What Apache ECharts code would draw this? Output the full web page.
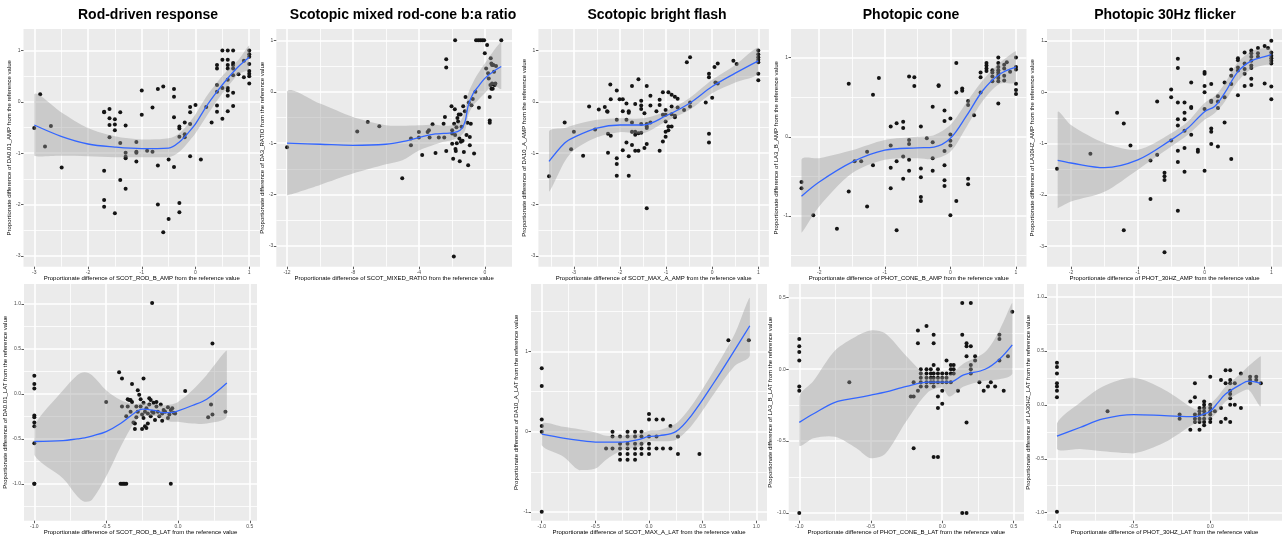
<!DOCTYPE html>
<html><head><meta charset="utf-8">
<script src="https://cdn.jsdelivr.net/npm/echarts@6/dist/echarts.min.js"></script>
<style>html,body{margin:0;padding:0;background:#fff}#c{width:1284px;height:540px}</style>
</head><body><div id="c"></div>
<script>
// ---------- DATA ----------
const panelTitles = ['Rod-driven response','Scotopic mixed rod-cone b:a ratio','Scotopic bright flash','Photopic cone','Photopic 30Hz flicker'];

const rodAmpPoints = [[-3,-0.51],[-2.89,0.15],[-2.8,-0.87],[-2.69,-0.47],[-2.49,-1.28],[-1.7,-0.19],[-1.7,-0.2],[-1.7,-1.34],[-1.7,-1.91],[-1.7,-2.04],[-1.6,-0.14],[-1.6,-0.32],[-1.6,-0.45],[-1.6,-0.69],[-1.5,-0.34],[-1.5,-0.44],[-1.5,-0.55],[-1.5,-2.17],[-1.4,-0.2],[-1.4,-0.8],[-1.4,-1.52],[-1.3,-0.46],[-1.3,-0.99],[-1.3,-1.07],[-1.3,-1.1],[-1.3,-1.69],[-1.1,-0.78],[-1.1,-0.97],[-1.1,-0.99],[-1.1,-1.16],[-1,0.22],[-1,-0.25],[-0.9,-0.95],[-0.8,-0.11],[-0.8,-0.97],[-0.7,0.25],[-0.7,-1.24],[-0.7,-2.0],[-0.6,0.3],[-0.6,-2.54],[-0.5,-1.12],[-0.5,-2.28],[-0.4,0.25],[-0.4,0.1],[-0.4,-0.3],[-0.4,-1.27],[-0.3,-0.48],[-0.3,-0.52],[-0.3,-0.68],[-0.3,-1.97],[-0.3,-2.15],[-0.2,-0.4],[-0.2,-0.63],[-0.2,-0.69],[-0.1,-0.1],[-0.1,-0.2],[-0.1,-0.43],[-0.1,-1.06],[0,-0.06],[0.1,-1.12],[0.2,-0.1],[0.3,-0.4],[0.4,0.72],[0.4,0.65],[0.4,0.33],[0.4,0.2],[0.4,-0.07],[0.4,-0.19],[0.5,1],[0.5,0.82],[0.5,0.27],[0.5,-0.33],[0.6,1],[0.6,0.82],[0.6,0.72],[0.6,0.65],[0.6,0.43],[0.6,0.27],[0.6,0.22],[0.6,0.12],[0.6,-0.18],[0.7,1],[0.7,0.76],[0.7,0.72],[0.7,0.65],[0.7,0.52],[0.7,0.18],[0.7,-0.08],[0.8,0.54],[0.9,0.8],[0.9,0.48],[1,1],[1,0.93],[1,0.88],[1,0.74],[1,0.6],[1,0.55],[1,0.5],[1,0.36]];
// [x, fit, lower, upper]
const rodAmpFit = [[-3,-0.45,-1.05,0.15],[-2.5,-0.67,-1.05,-0.2],[-2,-0.82,-1.06,-0.51],[-1.5,-0.88,-1.08,-0.67],[-1,-0.91,-1.08,-0.73],[-0.5,-0.9,-1.08,-0.71],[-0.3,-0.78,-0.97,-0.61],[-0.1,-0.56,-0.74,-0.38],[0,-0.43,-0.61,-0.24],[0.2,-0.09,-0.29,0.1],[0.4,0.2,0.02,0.38],[0.6,0.46,0.3,0.62],[0.8,0.69,0.54,0.82],[1,0.87,0.65,1.1]];

const mixedRatioPoints = [[-12,-1.08],[-7.74,-0.77],[-7.1,-0.59],[-6.4,-0.67],[-5.01,-1.68],[-4.48,-0.91],[-4.48,-1.04],[-4,-0.78],[-4,-0.89],[-3.8,-1.23],[-3.47,-0.78],[-3.39,-0.75],[-3.35,-0.89],[-3.17,-0.63],[-2.99,-1.19],[-2.79,-0.89],[-2.5,-0.62],[-2.46,-0.89],[-2.42,-0.49],[-2.34,0.63],[-2.34,0.47],[-2.34,-1.15],[-2.02,-0.28],[-1.98,-0.75],[-1.98,-0.81],[-1.98,-1.01],[-1.92,-1.3],[-1.88,-3.2],[-1.86,-0.62],[-1.82,-0.34],[-1.8,1],[-1.8,-0.84],[-1.78,-1.11],[-1.76,-1.15],[-1.72,-0.69],[-1.7,-1.0],[-1.66,-0.51],[-1.62,-0.58],[-1.58,-0.44],[-1.54,-0.91],[-1.52,-1.35],[-1.47,-0.44],[-1.45,-0.97],[-1.41,-0.68],[-1.35,-0.95],[-1.31,-0.28],[-1.27,-1.17],[-1.21,-0.38],[-1.17,-0.1],[-1.11,-0.84],[-1.05,-0.6],[-1.01,-1.43],[-0.97,-0.21],[-0.91,-0.88],[-0.91,-1.04],[-0.85,-0.62],[-0.81,-0.26],[-0.73,-0.14],[-0.65,-1.2],[-0.57,0],[-0.53,1],[-0.4,1],[-0.36,-0.31],[-0.28,1],[-0.16,1],[-0.04,1],[0,0.75],[0.08,0.45],[0.14,0.91],[0.2,0.36],[0.24,0.26],[0.3,-0.1],[0.3,-0.56],[0.3,-0.6],[0.34,0.13],[0.36,0.65],[0.4,0.55],[0.4,0.06],[0.44,0.52],[0.44,0.16],[0.48,0.06],[0.52,0.52],[0.52,0.14],[0.56,0.39],[0.6,0.13],[0.64,0.16],[0.68,0.5],[1,1]];
const mixedRatioFit = [[-12,-1.0,-2.01,0],[-10,-1.02,-1.81,-0.23],[-8,-1.04,-1.59,-0.49],[-6,-1.02,-1.41,-0.65],[-5,-0.97,-1.33,-0.66],[-4,-0.89,-1.14,-0.65],[-3,-0.82,-1.02,-0.64],[-2.5,-0.81,-0.97,-0.66],[-2,-0.8,-0.94,-0.65],[-1.5,-0.75,-0.87,-0.58],[-1.2,-0.58,-0.76,-0.36],[-1,-0.26,-0.45,-0.03],[-0.7,-0.03,-0.26,0.19],[-0.4,0.1,-0.16,0.36],[0,0.26,-0.03,0.55],[0.5,0.39,0.13,0.78],[1,0.49,0.06,0.97]];

const maxAAmpPoints = [[-3.54,-1.45],[-3.2,-0.4],[-3.06,-0.92],[-3,-0.58],[-2.8,-1.05],[-2.67,-0.09],[-2.54,-0.54],[-2.46,-0.15],[-2.33,-0.1],[-2.28,-0.18],[-2.27,-0.19],[-2.26,-0.62],[-2.26,-0.99],[-2.21,0.34],[-2.2,0.05],[-2.2,-0.66],[-2.07,0.22],[-2.07,-0.35],[-2.07,-1.1],[-2.07,-1.21],[-2.07,-1.44],[-2.01,0.05],[-1.94,0.05],[-1.94,-0.18],[-1.94,-0.94],[-1.86,-0.03],[-1.86,-0.35],[-1.86,-0.79],[-1.81,-0.18],[-1.81,-0.21],[-1.81,-1.06],[-1.81,-1.44],[-1.74,0.31],[-1.74,-0.4],[-1.74,-0.58],[-1.74,-0.84],[-1.67,-0.04],[-1.67,-0.58],[-1.67,-0.64],[-1.67,-0.95],[-1.6,0.44],[-1.6,-0.61],[-1.6,-0.95],[-1.54,0.02],[-1.54,-0.07],[-1.54,-0.14],[-1.54,-0.43],[-1.54,-0.6],[-1.47,-0.22],[-1.47,-0.9],[-1.42,0.31],[-1.42,-0.43],[-1.42,-0.48],[-1.42,-0.51],[-1.42,-0.82],[-1.42,-2.07],[-1.34,0.12],[-1.34,-0.07],[-1.34,-0.4],[-1.21,-0.18],[-1.14,0.04],[-1.14,-0.06],[-1.14,-0.95],[-1.07,0.19],[-1.07,-0.25],[-1.07,-0.77],[-1.01,-0.16],[-1.01,-0.25],[-1.01,-0.38],[-1.01,-0.58],[-1.01,-0.68],[-0.95,0.19],[-0.95,-0.48],[-0.95,-0.55],[-0.88,0.14],[-0.88,-0.09],[-0.88,-0.24],[-0.88,-0.48],[-0.81,0.1],[-0.81,-0.27],[-0.81,-0.3],[-0.75,0.06],[-0.75,-0.11],[-0.61,-0.16],[-0.55,0.77],[-0.48,0.87],[-0.48,-0.01],[-0.48,-0.09],[-0.14,-0.01],[-0.07,0.55],[-0.07,0.48],[-0.07,-0.62],[-0.07,-0.79],[0,0.08],[0.05,0.68],[0.07,0.38],[0.12,0.75],[0.12,0.36],[0.46,0.8],[0.53,0.74],[1,1],[1,0.93],[1,0.87],[1,0.82],[1,0.77],[1,0.55],[1,0.42]];
const maxAAmpFit = [[-3.54,-1.16,-1.75,-0.58],[-3.2,-0.8,-1.16,-0.51],[-3,-0.69,-0.94,-0.45],[-2.5,-0.51,-0.69,-0.35],[-2,-0.45,-0.59,-0.32],[-1.5,-0.45,-0.61,-0.32],[-1,-0.27,-0.38,-0.18],[-0.5,-0.03,-0.16,0.07],[0,0.3,0.17,0.43],[0.5,0.56,0.38,0.72],[1,0.8,0.56,1.06]];

const coneBAmpPoints = [[-2.27,-0.57],[-2.27,-0.65],[-2.09,-0.99],[-1.73,-1.16],[-1.55,0.67],[-1.55,-0.69],[-1.46,-0.31],[-1.36,-0.31],[-1.27,-0.19],[-1.27,-0.88],[-1.18,0.53],[-1.18,-0.36],[-1.09,0.74],[-0.91,0.13],[-0.91,-0.11],[-0.91,-0.39],[-0.91,-0.65],[-0.82,0.17],[-0.82,-0.31],[-0.82,-1.18],[-0.72,0.19],[-0.72,0.11],[-0.72,-0.25],[-0.72,-0.53],[-0.63,0.76],[-0.63,-0.04],[-0.63,-0.09],[-0.63,-0.29],[-0.63,-0.43],[-0.55,0.75],[-0.55,0.64],[-0.45,0.13],[-0.45,-0.4],[-0.45,-0.51],[-0.45,-0.76],[-0.45,-0.81],[-0.36,-0.02],[-0.27,0.38],[-0.27,-0.07],[-0.27,-0.27],[-0.27,-0.43],[-0.18,0.65],[-0.18,0.64],[-0.09,0.33],[-0.09,0.2],[-0.09,-0.18],[-0.09,-0.36],[-0.09,-0.55],[-0.09,-0.62],[0,0.23],[0,0.03],[0,-0.05],[0,-0.11],[0,-0.99],[0.09,0.93],[0.09,0.56],[0.09,-0.81],[0.18,0.61],[0.18,0.58],[0.27,0.45],[0.27,0.4],[0.27,-0.53],[0.27,-0.6],[0.36,0.27],[0.46,0.81],[0.46,0.75],[0.46,0.56],[0.55,0.93],[0.55,0.9],[0.55,0.86],[0.55,0.83],[0.64,0.84],[0.64,0.81],[0.64,0.76],[0.64,0.7],[0.73,1],[0.73,0.93],[0.73,0.88],[0.73,0.84],[0.73,0.81],[0.73,0.78],[0.73,0.74],[0.73,0.7],[0.73,0.42],[0.82,0.91],[0.82,0.86],[0.82,0.77],[0.82,0.71],[0.86,0.94],[0.91,0.82],[1,1],[1,0.88],[1,0.85],[1,0.67],[1,0.59],[1,0.54]];
const coneBAmpFit = [[-2.27,-0.75,-1.21,-0.29],[-2,-0.57,-0.88,-0.27],[-1.5,-0.32,-0.46,-0.17],[-1,-0.17,-0.29,-0.04],[-0.5,-0.14,-0.27,0],[-0.25,-0.13,-0.28,0.02],[0,-0.02,-0.19,0.15],[0.25,0.27,0.13,0.44],[0.5,0.59,0.46,0.72],[0.75,0.79,0.67,0.93],[1,0.88,0.69,1.08]];

const flickerAmpPoints = [[-2.21,-1.49],[-1.71,-1.2],[-1.31,-0.4],[-1.21,-0.61],[-1.21,-2.69],[-1.11,-1.04],[-0.81,-1.33],[-0.81,-2.08],[-0.71,-0.18],[-0.71,-1.22],[-0.6,-1.57],[-0.6,-1.64],[-0.6,-1.71],[-0.6,-3.12],[-0.5,0.05],[-0.5,-0.1],[-0.5,-0.94],[-0.4,0.65],[-0.4,0.47],[-0.4,-0.2],[-0.4,-0.53],[-0.4,-0.65],[-0.4,-1.14],[-0.4,-1.36],[-0.4,-2.31],[-0.3,-0.2],[-0.3,-0.4],[-0.3,-0.53],[-0.3,-0.75],[-0.3,-1.09],[-0.3,-1.55],[-0.2,0.19],[-0.2,-0.29],[-0.2,-0.31],[-0.2,-0.83],[-0.1,-1.12],[-0.1,-1.16],[0,0.39],[0,0.36],[0,0.12],[0,0],[0,-0.33],[0,-1.53],[0.1,0.16],[0.1,-0.17],[0.1,-0.19],[0.1,-0.71],[0.1,-0.77],[0.1,-1.01],[0.2,-0.08],[0.2,-0.18],[0.2,-0.31],[0.2,-1.06],[0.3,0.19],[0.3,-0.1],[0.3,-0.59],[0.4,0.44],[0.4,0.32],[0.4,0.16],[0.4,-1.3],[0.5,0.66],[0.5,0.62],[0.5,0.48],[0.5,0.42],[0.5,-0.06],[0.6,0.77],[0.6,0.56],[0.6,0.45],[0.6,0.36],[0.6,0.12],[0.7,0.81],[0.7,0.76],[0.7,0.69],[0.7,0.61],[0.7,0.52],[0.7,0.47],[0.7,0.26],[0.7,0.14],[0.8,0.86],[0.8,0.76],[0.8,0.69],[0.9,0.9],[0.9,0.17],[0.95,0.86],[1,1],[1,0.77],[1,0.71],[1,0.66],[1,0.61],[1,0.56],[1,0.11],[1,-0.14]];
const flickerAmpFit = [[-2.2,-1.33,-2.26,-0.39],[-2,-1.38,-2.13,-0.64],[-1.5,-1.47,-1.94,-0.99],[-1,-1.32,-1.51,-1.12],[-0.5,-0.93,-1.06,-0.8],[-0.25,-0.7,-0.83,-0.57],[0,-0.38,-0.54,-0.21],[0.15,-0.28,-0.41,-0.08],[0.3,-0.02,-0.19,0.16],[0.5,0.4,0.21,0.58],[0.7,0.61,0.45,0.79],[0.9,0.69,0.53,0.86],[1,0.73,0.56,0.84]];

const rodLatPoints = [[-1,0.2],[-1,0.11],[-1,0.06],[-1,-0.24],[-1,-0.26],[-1,-0.32],[-1,-0.36],[-1,-0.55],[-1,-1],[-1,-1],[-0.5,-0.09],[-0.41,0.24],[-0.4,-1],[-0.39,-1],[-0.38,-1],[-0.37,-1],[-0.36,-1],[-0.39,0.17],[-0.39,-0.14],[-0.36,-0.25],[-0.35,-0.14],[-0.35,-0.06],[-0.34,-0.07],[-0.33,-0.07],[-0.33,-0.2],[-0.32,-0.09],[-0.32,0.11],[-0.31,-0.32],[-0.3,-0.33],[-0.3,-0.39],[-0.29,-0.14],[-0.29,-0.26],[-0.28,0.04],[-0.28,-0.2],[-0.27,-0.01],[-0.26,-0.06],[-0.26,-0.14],[-0.25,-0.23],[-0.25,-0.39],[-0.24,0.17],[-0.24,-0.27],[-0.24,-0.1],[-0.23,-0.36],[-0.23,-0.2],[-0.22,-0.16],[-0.22,-0.38],[-0.21,-0.33],[-0.21,-0.22],[-0.2,-0.05],[-0.2,-0.12],[-0.19,-0.25],[-0.19,-0.07],[-0.18,1.01],[-0.18,-0.2],[-0.17,-0.1],[-0.17,-0.21],[-0.16,-0.29],[-0.15,-0.14],[-0.15,-0.09],[-0.14,-0.2],[-0.13,-0.25],[-0.12,-0.12],[-0.11,-0.22],[-0.11,-0.3],[-0.1,-0.18],[-0.09,-0.2],[-0.07,-0.27],[-0.07,-0.15],[-0.06,-0.23],[-0.05,-1],[-0.05,-0.18],[-0.04,-0.16],[-0.03,-0.21],[-0.02,-0.22],[0.05,0.03],[0.21,-0.26],[0.23,-0.12],[0.24,-0.23],[0.24,0.56],[0.33,-0.2]];
const rodLatFit = [[-1,-0.53,-0.68,-0.36],[-0.8,-0.52,-0.94,0.04],[-0.7,-0.5,-1.14,0.21],[-0.65,-0.49,-1.2,0.24],[-0.6,-0.47,-1.18,0.21],[-0.5,-0.42,-0.92,0.04],[-0.4,-0.33,-0.59,-0.07],[-0.3,-0.21,-0.31,-0.12],[-0.25,-0.17,-0.25,-0.1],[-0.15,-0.19,-0.25,-0.12],[-0.1,-0.21,-0.28,-0.13],[-0.05,-0.21,-0.31,-0.12],[0,-0.19,-0.31,-0.09],[0.1,-0.13,-0.33,0.04],[0.2,-0.06,-0.33,0.21],[0.34,0.12,-0.25,0.48]];

const maxALatPoints = [[-1,0.79],[-1,0.57],[-1,0.15],[-1,0.07],[-1,0],[-1,-1],[-0.4,-0.21],[-0.34,0],[-0.34,-0.06],[-0.34,-0.21],[-0.27,-0.06],[-0.27,-0.15],[-0.27,-0.21],[-0.27,-0.28],[-0.27,-0.35],[-0.2,0],[-0.2,-0.06],[-0.2,-0.15],[-0.2,-0.21],[-0.2,-0.28],[-0.2,-0.35],[-0.13,0],[-0.13,-0.06],[-0.13,-0.15],[-0.13,-0.21],[-0.13,-0.28],[-0.13,-0.35],[-0.07,0],[-0.07,-0.06],[-0.07,-0.15],[-0.07,-0.21],[-0.07,-0.28],[0,0.22],[0,0.15],[0,-0.06],[0,-0.15],[0,-0.21],[0,-0.28],[0.07,0.15],[0.07,-0.06],[0.07,-0.21],[0.13,0.15],[0.13,-0.21],[0.2,0.07],[0.2,-0.21],[0.27,-0.06],[0.27,-0.28],[0.47,-0.28],[0.74,1.14],[0.93,1.14]];
const maxALatFit = [[-1,-0.03,-0.17,0.1],[-0.8,-0.08,-0.31,0.06],[-0.65,-0.11,-0.48,0.03],[-0.5,-0.13,-0.46,-0.01],[-0.4,-0.13,-0.35,-0.05],[-0.25,-0.13,-0.23,-0.05],[-0.1,-0.1,-0.19,-0.03],[0,-0.06,-0.12,0.01],[0.1,-0.05,-0.12,0.02],[0.25,0,-0.1,0.1],[0.4,0.21,0.08,0.33],[0.6,0.6,0.46,0.75],[0.8,1.02,0.82,1.22],[0.94,1.32,0.95,1.67]];

const coneBLatPoints = [[-1,0.21],[-1,0.16],[-1,0.12],[-1,0.06],[-1,-0.12],[-1,-0.15],[-1,-1],[-0.65,-0.09],[-0.22,-0.19],[-0.2,-0.19],[-0.2,-0.09],[-0.2,-0.55],[-0.17,0.27],[-0.17,0.18],[-0.17,-0.15],[-0.15,0],[-0.15,-0.03],[-0.15,-0.06],[-0.15,-0.09],[-0.15,-0.12],[-0.11,0.3],[-0.11,0],[-0.11,-0.03],[-0.11,-0.06],[-0.11,-0.09],[-0.11,-0.12],[-0.08,0],[-0.08,-0.03],[-0.08,-0.06],[-0.08,-0.09],[-0.06,0.24],[-0.06,0.18],[-0.06,0.03],[-0.06,-0.03],[-0.06,-0.06],[-0.06,-0.09],[-0.06,-0.12],[-0.06,-0.61],[-0.03,0],[-0.03,-0.03],[-0.03,-0.06],[-0.03,-0.09],[-0.03,-0.19],[-0.03,-0.27],[-0.03,-0.61],[0,-0.03],[0,-0.06],[0,-0.09],[0,-0.15],[0,-0.24],[0.03,-0.03],[0.03,-0.06],[0.03,-0.09],[0.03,0.06],[0.06,0.03],[0.06,0],[0.06,-0.03],[0.06,-0.09],[0.08,0.03],[0.08,0],[0.08,-0.03],[0.11,-0.15],[0.14,-1],[0.14,0.46],[0.14,0.24],[0.17,-1],[0.17,0.18],[0.17,0.16],[0.17,0.09],[0.17,-0.37],[0.2,0.46],[0.2,0.16],[0.2,0.03],[0.2,0],[0.2,-0.03],[0.23,0.09],[0.23,0.06],[0.26,-0.09],[0.29,-0.15],[0.32,-0.12],[0.34,-0.09],[0.37,-0.12],[0.4,0.24],[0.4,0.21],[0.4,0.06],[0.43,-0.15],[0.46,0.09],[0.49,0.4]];
const coneBLatFit = [[-1,-0.37,-0.53,-0.19],[-0.9,-0.31,-0.48,-0.08],[-0.75,-0.23,-0.47,0.13],[-0.6,-0.2,-0.55,0.23],[-0.5,-0.18,-0.62,0.27],[-0.4,-0.16,-0.59,0.25],[-0.25,-0.12,-0.36,0.09],[-0.1,-0.09,-0.16,-0.05],[0,-0.09,-0.13,-0.05],[0.05,-0.09,-0.19,-0.04],[0.15,-0.04,-0.12,0.04],[0.3,0,-0.08,0.12],[0.4,0.07,-0.07,0.27],[0.49,0.17,-0.03,0.46]];

const flickerLatPoints = [[-1,0.39],[-1,0.35],[-1,0.29],[-1,0.2],[-1,0.17],[-1,0.13],[-1,0.07],[-1,-0.99],[-0.67,-0.06],[-0.2,-0.09],[-0.2,-0.13],[-0.13,0.03],[-0.13,-0.23],[-0.1,0.2],[-0.1,0.07],[-0.1,-0.09],[-0.1,-0.13],[-0.1,-0.16],[-0.07,-0.03],[-0.07,-0.06],[-0.07,-0.09],[-0.07,-0.13],[-0.07,-0.16],[-0.07,-0.23],[-0.04,0.03],[-0.04,0],[-0.04,-0.03],[-0.04,-0.06],[-0.04,-0.09],[-0.04,-0.13],[-0.04,-0.16],[-0.04,-0.19],[0,0.26],[0,0],[0,-0.03],[0,-0.06],[0,-0.09],[0,-0.13],[0,-0.16],[0.03,-0.06],[0.07,0.23],[0.07,-0.03],[0.07,-0.16],[0.1,0.32],[0.1,0.2],[0.1,-0.13],[0.13,0.32],[0.13,0.23],[0.13,0.2],[0.13,0.13],[0.13,0.1],[0.13,0.06],[0.13,0],[0.13,-0.16],[0.16,0.2],[0.16,0],[0.2,0.29],[0.2,-0.03],[0.26,0.26],[0.26,0.23],[0.26,0.2],[0.3,0.26],[0.3,0.23],[0.33,0.2]];
const flickerLatFit = [[-1,-0.29,-0.41,-0.17],[-0.85,-0.21,-0.41,0.02],[-0.7,-0.13,-0.43,0.17],[-0.5,-0.09,-0.45,0.25],[-0.3,-0.1,-0.35,0.14],[-0.1,-0.11,-0.17,-0.04],[-0.05,-0.09,-0.15,-0.03],[0,-0.06,-0.13,0.01],[0.05,0.02,-0.06,0.08],[0.1,0.1,0.03,0.17],[0.2,0.19,0.12,0.29],[0.25,0.22,0.14,0.36],[0.33,0.2,-0.01,0.45]];

// tick values
const intTicks3 = [-3,-2,-1,0,1];
const rodAmpXTicks = [-3,-2,-1,0,1];
const mixedRatioXTicks = [-12,-8,-4,0];
const maxAAmpXTicks = [-3,-2,-1,0,1];
const coneBAmpXTicks = [-2,-1,0,1];
const coneBAmpYTicks = [-1,0,1];
const flickerAmpXTicks = [-2,-1,0,1];
const rodLatXTicks = [-1,-0.5,0,0.5];
const rodLatYTicks = [-1,-0.5,0,0.5,1];
const maxALatXTicks = [-1,-0.5,0,0.5,1];
const maxALatYTicks = [-1,0,1];
const coneBLatXTicks = [-1,-0.5,0,0.5];
const coneBLatYTicks = [-1,-0.5,0,0.5];
const flickerLatXTicks = [-1,-0.5,0];
const flickerLatYTicks = [-1,-0.5,0,0.5,1];

const xNames = ['SCOT_ROD_B_AMP','SCOT_MIXED_RATIO','SCOT_MAX_A_AMP','PHOT_CONE_B_AMP','PHOT_30HZ_AMP','SCOT_ROD_B_LAT','SCOT_MAX_A_LAT','PHOT_CONE_B_LAT','PHOT_30HZ_LAT'];
const yNames = ['DA0.01_AMP','DA3_RATIO','DA10_A_AMP','LA3_B_AMP','LA30HZ_AMP','DA0.01_LAT','DA10_A_LAT','LA3_B_LAT','LA30HZ_LAT'];

// ---------- LAYOUT ----------
const TOP = {top: 29, height: 237.7};
const BOT = {top: 284, height: 236.7};
const panels = [
  {pts: rodAmpPoints, fit: rodAmpFit, xt: rodAmpXTicks, yt: intTicks3, xd:0, yd:0, left:23.5, width:236.5, row:TOP, x:[-3.2,1.2], y:[-3.21,1.42]},
  {pts: mixedRatioPoints, fit: mixedRatioFit, xt: mixedRatioXTicks, yt: intTicks3, xd:0, yd:0, left:276.3, width:235.7, row:TOP, x:[-12.65,1.65], y:[-3.4,1.22]},
  {pts: maxAAmpPoints, fit: maxAAmpFit, xt: maxAAmpXTicks, yt: intTicks3, xd:0, yd:0, left:538.4, width:230.5, row:TOP, x:[-3.77,1.23], y:[-3.21,1.42]},
  {pts: coneBAmpPoints, fit: coneBAmpFit, xt: coneBAmpXTicks, yt: coneBAmpYTicks, xd:0, yd:0, left:791, width:235.5, row:TOP, x:[-2.43,1.16], y:[-1.64,1.36]},
  {pts: flickerAmpPoints, fit: flickerAmpFit, xt: flickerAmpXTicks, yt: intTicks3, xd:0, yd:0, left:1047, width:235, row:TOP, x:[-2.36,1.16], y:[-3.4,1.23]},
  {pts: rodLatPoints, fit: rodLatFit, xt: rodLatXTicks, yt: rodLatYTicks, xd:1, yd:1, left:24, width:233, row:BOT, x:[-1.072,0.55], y:[-1.41,1.22]},
  {pts: maxALatPoints, fit: maxALatFit, xt: maxALatXTicks, yt: maxALatYTicks, xd:1, yd:0, left:531, width:236, row:BOT, x:[-1.1,1.1], y:[-1.11,1.84]},
  {pts: coneBLatPoints, fit: coneBLatFit, xt: coneBLatXTicks, yt: coneBLatYTicks, xd:1, yd:1, left:788.7, width:235.3, row:BOT, x:[-1.074,0.572], y:[-1.054,0.593]},
  {pts: flickerLatPoints, fit: flickerLatFit, xt: flickerLatXTicks, yt: flickerLatYTicks, xd:1, yd:1, left:1047, width:235, row:BOT, x:[-1.065,0.468], y:[-1.074,1.12]}
];
const titleCenters = [143, 398, 652, 906, 1160];

function minorTicks(ticks, lo, hi) {
  const step = ticks[1] - ticks[0];
  const out = [];
  for (let v = ticks[0] - step / 2; v <= hi + 1e-9; v += step) if (v >= lo) out.push(+v.toFixed(6));
  return out;
}

const FONT = 'Liberation Sans';
const grids = [], xAxes = [], yAxes = [], series = [];
panels.forEach((p, i) => {
  grids.push({left: p.left, top: p.row.top, width: p.width, height: p.row.height, show: true, backgroundColor: '#EBEBEB', borderWidth: 0, containLabel: false});
  const xMinor = minorTicks(p.xt, p.x[0], p.x[1]);
  const yMinor = minorTicks(p.yt, p.y[0], p.y[1]);
  // major axes (labels, ticks, major grid)
  xAxes.push({
    type: 'value', gridIndex: i, min: p.x[0], max: p.x[1], position: 'bottom',
    axisLine: {show: false, onZero: false},
    axisTick: {show: true, length: 2.5, lineStyle: {color: '#333333', width: 0.8}, customValues: p.xt},
    axisLabel: {customValues: p.xt, fontSize: 5, color: '#4D4D4D', margin: 3, fontFamily: FONT, formatter: v => (+v).toFixed(p.xd)},
    splitLine: {show: true, lineStyle: {color: '#FFFFFF', width: 1.6}},
    name: 'Proportionate difference of ' + xNames[i] + ' from the reference value',
    nameLocation: 'middle', nameGap: 9, nameTextStyle: {fontSize: 6, color: '#000', fontFamily: FONT}
  });
  yAxes.push({
    type: 'value', gridIndex: i, min: p.y[0], max: p.y[1], position: 'left',
    axisLine: {show: false, onZero: false},
    axisTick: {show: true, length: 2.5, lineStyle: {color: '#333333', width: 0.8}, customValues: p.yt},
    axisLabel: {customValues: p.yt, fontSize: 5, color: '#4D4D4D', margin: 3, fontFamily: FONT, formatter: v => (+v).toFixed(p.yd)},
    splitLine: {show: true, lineStyle: {color: '#FFFFFF', width: 1.6}},
    name: 'Proportionate difference of ' + yNames[i] + ' from the reference value',
    nameLocation: 'middle', nameGap: 11, nameRotate: 90, nameTextStyle: {fontSize: 6, color: '#000', fontFamily: FONT}
  });
  series.push({type: 'scatter', xAxisIndex: 2 * i, yAxisIndex: 2 * i, data: p.pts, symbolSize: 4,
    itemStyle: {color: '#141414', opacity: 1}, silent: true, z: 2});
  const fit = p.fit;
  series.push({type: 'custom', xAxisIndex: 2 * i, yAxisIndex: 2 * i, z: 3, silent: true,
    data: fit.map(d => [d[0], d[2], d[3]]), encode: {x: 0, y: [1, 2]},
    renderItem: function (params, api) {
      if (params.dataIndex !== 0) return null;
      const up = fit.map(d => api.coord([d[0], d[3]]));
      const lo = fit.map(d => api.coord([d[0], d[2]])).reverse();
      return {type: 'polygon', shape: {points: up.concat(lo), smooth: 0.3,
        smoothConstraint: [[Infinity, Infinity], [-Infinity, -Infinity]]},
        style: {fill: 'rgba(153,153,153,0.4)'}};
    }});
  series.push({type: 'line', xAxisIndex: 2 * i, yAxisIndex: 2 * i, z: 4, data: fit.map(d => [d[0], d[1]]),
    showSymbol: false, smooth: 0.35, lineStyle: {color: '#3366FF', width: 1.3}, silent: true});
  // minor grid axes (same range, only thin split lines)
  xAxes.push({type: 'value', gridIndex: i, min: p.x[0], max: p.x[1], position: 'bottom',
    axisLine: {show: false, onZero: false}, axisTick: {show: false, customValues: xMinor},
    axisLabel: {show: false, customValues: xMinor}, splitLine: {show: true, lineStyle: {color: '#FFFFFF', width: 0.8}}});
  yAxes.push({type: 'value', gridIndex: i, min: p.y[0], max: p.y[1], position: 'left',
    axisLine: {show: false, onZero: false}, axisTick: {show: false, customValues: yMinor},
    axisLabel: {show: false, customValues: yMinor}, splitLine: {show: true, lineStyle: {color: '#FFFFFF', width: 0.8}}});
});

const titles = panelTitles.map((t, i) => ({text: t, left: titleCenters[i], top: 3, textAlign: 'center',
  textStyle: {fontSize: 14, fontWeight: 'bold', color: '#000', fontFamily: FONT}}));

const chart = echarts.init(document.getElementById('c'), null, {renderer: 'canvas'});
chart.setOption({animation: false, backgroundColor: '#FFFFFF', title: titles, grid: grids, xAxis: xAxes, yAxis: yAxes, series: series});
</script></body></html>
